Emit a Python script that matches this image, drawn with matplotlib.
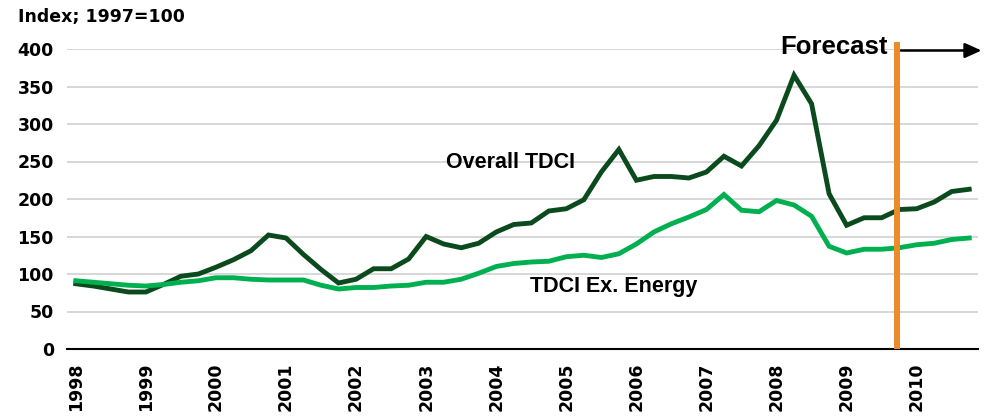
import matplotlib
matplotlib.use("Agg")
from matplotlib import pyplot as plt
import numpy as np

# quarterly index, 1998Q1 .. 2010Q4 (1997=100)
years = [str(y) for y in range(1998, 2011)]
overall_tdci = [87, 84, 80, 76, 76, 86, 97, 100, 109, 119, 131, 152,
                148, 126, 106, 88, 93, 107, 107, 120, 150, 140, 135, 141,
                156, 166, 168, 184, 187, 199, 236, 266, 225, 230, 230, 228,
                236, 257, 244, 271, 305, 365, 327, 207, 165, 175, 175, 186,
                187, 196, 210, 213]
tdci_ex_energy = [91, 89, 87, 85, 84, 86, 89, 91, 95, 95, 93, 92,
                  92, 92, 85, 80, 82, 82, 84, 85, 89, 89, 93, 101,
                  110, 114, 116, 117, 123, 125, 122, 127, 140, 156, 167, 176,
                  186, 206, 185, 183, 198, 192, 177, 137, 128, 133, 133, 135,
                  139, 141, 146, 148]
forecast_start = 46.9   # just before 2009Q4 point

dark = '#0b4a1c'
light = '#00b050'
orange = '#ec8b2a'
lab_font = 'DejaVu Sans'
txt_font = 'Liberation Sans'

x = np.arange(len(overall_tdci))

fig = plt.figure(figsize=(9.84, 4.17), dpi=100)
ax = fig.add_axes([67/984, 1 - 349/417, (978 - 67)/984, 300/417])

ax.plot(x, overall_tdci, color=dark, lw=3.5, solid_joinstyle='miter', zorder=3)
ax.plot(x, tdci_ex_energy, color=light, lw=3.5, solid_joinstyle='miter', zorder=3)

ax.set_xlim(-0.5, len(x) - 0.5)
ax.set_ylim(0, 400)
ax.set_yticks(range(0, 401, 50))
ax.set_xticks(x[::4])
ax.set_xticklabels(years, rotation=90, va='top', ha='center')

for lab in ax.get_xticklabels() + ax.get_yticklabels():
    lab.set_fontfamily(lab_font)
    lab.set_fontweight('bold')
    lab.set_fontsize(12.5)
ax.tick_params(axis='y', length=0, pad=9.5)
ax.tick_params(axis='x', length=0, pad=10)

ax.grid(axis='y', color='#d4d4d4', lw=1.3)
ax.set_axisbelow(True)
for s in ['left', 'right', 'top']:
    ax.spines[s].set_visible(False)
ax.spines['bottom'].set_color('black')
ax.spines['bottom'].set_linewidth(1.5)
ax.spines['bottom'].set_zorder(4)

# forecast marker
ax.plot([forecast_start, forecast_start], [0, 410], color=orange, lw=4.3,
        solid_capstyle='butt', clip_on=False, zorder=5)
ax.text(43.3, 402, 'Forecast', fontsize=18.5, fontweight='bold',
        family=txt_font, ha='center', va='center')
ax.annotate('', xy=(51.7, 398), xytext=(47.1, 398), annotation_clip=False,
            arrowprops=dict(arrowstyle='-|>,head_length=1.0,head_width=0.45',
                            color='black', lw=1.8, shrinkA=0, shrinkB=0))

ax.text(24.8, 249, 'Overall TDCI', fontsize=15.5, fontweight='bold',
        family=txt_font, ha='center', va='center')
ax.text(30.7, 83, 'TDCI Ex. Energy', fontsize=15.5, fontweight='bold',
        family=txt_font, ha='center', va='center')

fig.text(18/984, 1 - 17/417, 'Index; 1997=100', family=lab_font,
         fontweight='bold', fontsize=12.5, ha='left', va='center')

fig.savefig('out.png', dpi=100)
